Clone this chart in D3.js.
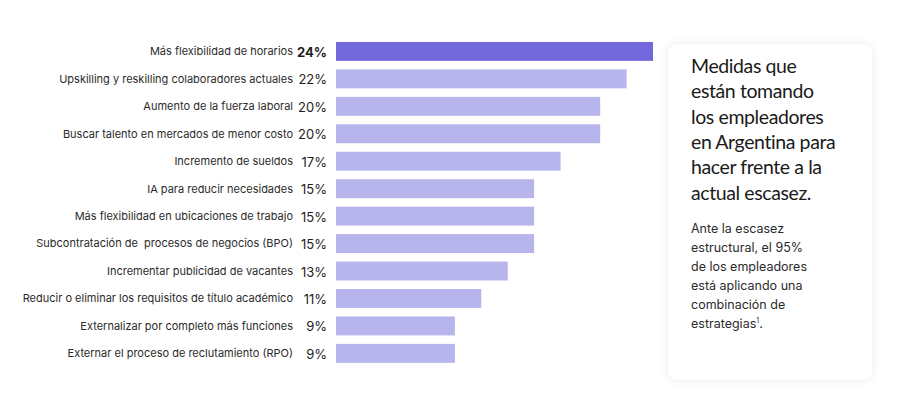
<!DOCTYPE html>
<html>
<head>
<meta charset="utf-8">
<script src="https://cdn.jsdelivr.net/npm/d3@7"></script>
<style>
  html, body { margin: 0; padding: 0; background: #fff; }
  svg { display: block; }
</style>
</head>
<body>
<svg id="chart"></svg>
<script>
const categories = [
  "Más flexibilidad de horarios",
  "Upskilling y reskilling colaboradores actuales",
  "Aumento de la fuerza laboral",
  "Buscar talento en mercados de menor costo",
  "Incremento de sueldos",
  "IA para reducir necesidades",
  "Más flexibilidad en ubicaciones de trabajo",
  "Subcontratación de  procesos de negocios (BPO)",
  "Incrementar publicidad de vacantes",
  "Reducir o eliminar los requisitos de título académico",
  "Externalizar por completo más funciones",
  "Externar el proceso de reclutamiento (RPO)"
]
const values = [24, 22, 20, 20, 17, 15, 15, 15, 13, 11, 9, 9]
const highlighted = ["Más flexibilidad de horarios"]

const titleLines = [
  "Medidas que",
  "están tomando",
  "los empleadores",
  "en Argentina para",
  "hacer frente a la",
  "actual escasez."
]
const bodyLines = [
  "Ante la escasez",
  "estructural, el 95%",
  "de los empleadores",
  "está aplicando una",
  "combinación de",
  "estrategias"
]

const width = 900, height = 398
const svg = d3.select("#chart").attr("width", width).attr("height", height)

const data = categories.map((c, i) => ({ name: c, value: values[i] }))

const x = d3.scaleLinear().domain([0, 24]).range([336, 653])
const y = d3.scaleBand()
  .domain(categories)
  .range([37.7, 367.1])
  .paddingInner(0.31)
  .paddingOuter(0.155)

// bars
svg.append("g").selectAll("rect")
  .data(data)
  .join("rect")
  .attr("x", x(0))
  .attr("y", d => y(d.name))
  .attr("width", d => x(d.value) - x(0))
  .attr("height", y.bandwidth())
  .attr("fill", d => highlighted.includes(d.name) ? "#7469DC" : "#B8B4EC")

// category labels
svg.append("g").selectAll("text")
  .data(data)
  .join("text")
  .attr("x", 293)
  .attr("y", d => y(d.name) + y.bandwidth() / 2)
  .attr("dy", "0.35em")
  .attr("text-anchor", "end")
  .style("font-family", "Inter, 'Noto Sans', sans-serif")
  .style("font-size", "11px")
  .style("fill", "#2b2b2b")
  .style("white-space", "pre")
  .text(d => d.name)

// value labels
svg.append("g").selectAll("text")
  .data(data)
  .join("text")
  .attr("x", 327)
  .attr("y", d => y(d.name) + y.bandwidth() / 2 + 1)
  .attr("dy", "0.35em")
  .attr("text-anchor", "end")
  .style("font-family", "Inter, 'Noto Sans', sans-serif")
  .style("font-size", "13px")
  .style("font-weight", d => highlighted.includes(d.name) ? 700 : 400)
  .style("fill", "#1e1e1e")
  .text(d => d.value + "%")

// side card
const defs = svg.append("defs")
const shadow = defs.append("filter").attr("id", "shadow")
  .attr("x", "-20%").attr("y", "-20%").attr("width", "140%").attr("height", "140%")
shadow.append("feDropShadow")
  .attr("dx", 0).attr("dy", 0).attr("stdDeviation", 4)
  .attr("flood-color", "#000").attr("flood-opacity", 0.09)

svg.append("rect")
  .attr("x", 668).attr("y", 44)
  .attr("width", 204).attr("height", 336)
  .attr("rx", 10)
  .attr("fill", "#fff")
  .attr("filter", "url(#shadow)")

svg.append("text")
  .attr("x", 691)
  .attr("y", 73)
  .style("font-family", "Lato, 'Open Sans', sans-serif")
  .style("font-size", "19.5px")
  .style("letter-spacing", "-0.4px")
  .style("fill", "#1a1a1a")
  .selectAll("tspan")
  .data(titleLines)
  .join("tspan")
  .attr("x", 691)
  .attr("dy", (d, i) => i === 0 ? 0 : 25.3)
  .text(d => d)

const body = svg.append("text")
  .attr("x", 691)
  .attr("y", 233)
  .style("font-family", "Inter, 'Noto Sans', sans-serif")
  .style("font-size", "12.5px")
  .style("fill", "#2b2b2b")

body.selectAll("tspan")
  .data(bodyLines)
  .join("tspan")
  .attr("x", 691)
  .attr("dy", (d, i) => i === 0 ? 0 : 19)
  .text(d => d)

body.append("tspan")
  .attr("dy", -5)
  .style("font-size", "7px")
  .text("1")
body.append("tspan")
  .attr("dy", 5)
  .text(".")
</script>
</body>
</html>
